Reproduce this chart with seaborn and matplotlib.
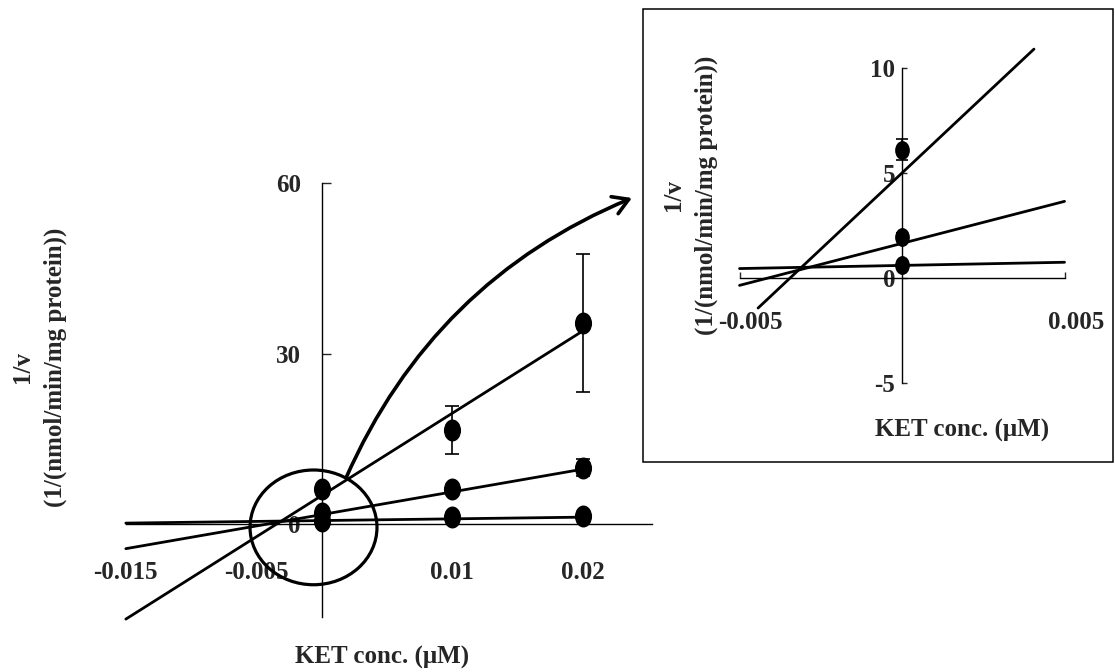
import numpy as np
import pandas as pd
import matplotlib
matplotlib.use("Agg")
import matplotlib.pyplot as plt
import seaborn as sns
from matplotlib.patches import Ellipse, Rectangle
from matplotlib.path import Path
from matplotlib.markers import MarkerStyle
from matplotlib.transforms import Affine2D, ScaledTranslation

sns.set_theme(style="white")
plt.rcParams['font.family'] = ['Liberation Serif', 'DejaVu Serif']
plt.rcParams['font.weight'] = 'bold'
plt.rcParams['axes.unicode_minus'] = False

# 数据
conc = [0.0, 0.01, 0.02]
s1 = [6.1, 16.5, 35.4]      # 最陡的那条
s1_err = [0.5, 4.2, 12.1]
s2 = [1.95, 6.2, 9.9]
s2_err = [0.2, 0.3, 1.5]
s3 = [0.6, 1.2, 1.4]
s3_err = [0.1, 0.1, 0.1]

# 拟合直线的两个端点
fit_x = [-0.015, 0.02]
fit1_y = [-16.75, 34.0]
fit2_y = [-4.35, 9.65]
fit3_y = [0.15, 1.2]

# 放大图里的直线端点
zoom_fit1_x = [-0.00443, 0.00406]
zoom_fit1_y = [-1.43, 10.9]
zoom_fit_x = [-0.005, 0.005]
zoom_fit2_y = [-0.35, 3.65]
zoom_fit3_y = [0.45, 0.75]

main_xticks = [-0.015, -0.005, 0.01, 0.02]
main_xlabels = ['-0.015', '-0.005', '0.01', '0.02']
main_yticks = [0, 30, 60]
zoom_xticks = [-0.005, 0.005]
zoom_xlabels = ['-0.005', '0.005']
zoom_yticks = [-5, 0, 5, 10]

xlabel = 'KET conc. (\u03bcM)'
ylabel = '1/v\n(1/(nmol/min/mg protein))'

points = pd.DataFrame({
    'conc': conc * 3,
    'inv_v': s1 + s2 + s3,
    'err': s1_err + s2_err + s3_err,
})

# 椭圆形的点
ell = Path(Affine2D().scale(0.78, 1.0).transform(Path.unit_circle().vertices),
           Path.unit_circle().codes)
dot = MarkerStyle(ell)

fig = plt.figure(figsize=(11.15, 6.72), dpi=100)
ax = fig.add_axes([0.1070, 0.06815, 0.4861, 0.6762])
axz = fig.add_axes([0.6487, 0.4144, 0.3206, 0.5313])

for a in (ax, axz):
    a.patch.set_visible(False)
    a.spines['top'].set_visible(False)
    a.spines['right'].set_visible(False)
    a.spines['left'].set_position(('data', 0))
    a.spines['bottom'].set_position(('data', 0))
    for sp in ('left', 'bottom'):
        a.spines[sp].set_color('black')
        a.spines[sp].set_linewidth(1.0)
    a.grid(False)

# ---- 主图 ----
ax.set_xlim(-0.0155, 0.026)
ax.set_ylim(-18, 62)
ax.spines['left'].set_bounds(-16.4, 60)
ax.spines['bottom'].set_bounds(-0.015, 0.0253)

for fy in (fit1_y, fit2_y, fit3_y):
    sns.lineplot(x=fit_x, y=fy, ax=ax, color='black', lw=2.0, clip_on=False)
ax.errorbar(points['conc'], points['inv_v'], yerr=points['err'], fmt='none',
            ecolor='black', elinewidth=1.2, capsize=5, capthick=1.2, clip_on=False)
sns.scatterplot(data=points, x='conc', y='inv_v', ax=ax, marker=dot, s=250,
                color='black', edgecolor='black', linewidth=0, zorder=5, clip_on=False)

ax.add_patch(Ellipse((-0.00063, -0.6), 0.00972, 20.2, fill=False,
                     edgecolor='black', lw=2.3, clip_on=False, zorder=6))

ax.set_xticks(main_xticks)
ax.set_xticklabels(main_xlabels)
ax.set_yticks(main_yticks)
ax.tick_params(axis='x', length=0, pad=27, labelsize=18)
ax.tick_params(axis='y', direction='in', length=6.5, width=1.0, pad=15,
               labelsize=18, left=True)
for t in ax.get_xticklabels() + ax.get_yticklabels():
    t.set_fontweight('bold')
ax.set_xlabel('')
ax.set_ylabel('')

# ---- 放大图 ----
axz.set_xlim(-0.0055, 0.0055)
axz.set_ylim(-5.5, 11.5)
axz.spines['left'].set_bounds(-5, 10)
axz.spines['bottom'].set_bounds(-0.005, 0.005)

sns.lineplot(x=zoom_fit1_x, y=zoom_fit1_y, ax=axz, color='black', lw=2.0, clip_on=False)
for fy in (zoom_fit2_y, zoom_fit3_y):
    sns.lineplot(x=zoom_fit_x, y=fy, ax=axz, color='black', lw=2.0, clip_on=False)
zp = points[points['conc'] == 0]
axz.errorbar(zp['conc'], zp['inv_v'], yerr=zp['err'], fmt='none',
             ecolor='black', elinewidth=1.2, capsize=4, capthick=1.2)
sns.scatterplot(data=zp, x='conc', y='inv_v', ax=axz, marker=dot, s=185,
                color='black', edgecolor='black', linewidth=0, zorder=5)

axz.set_xticks(zoom_xticks)
axz.set_xticklabels(zoom_xlabels)
axz.set_yticks(zoom_yticks)
axz.tick_params(axis='x', direction='in', length=4, width=1.0, pad=24,
                labelsize=18, bottom=True)
axz.tick_params(axis='y', direction='in', length=3.6, width=1.0, pad=5,
                labelsize=18, left=True)
shift = ScaledTranslation(8 / 72, 0, fig.dpi_scale_trans)
for t in axz.get_xticklabels():
    t.set_transform(t.get_transform() + shift)
for t in axz.get_xticklabels() + axz.get_yticklabels():
    t.set_fontweight('bold')
axz.set_xlabel('')
axz.set_ylabel('')

# 外框
fig.patches.append(Rectangle((0.5767, 0.3125), 0.4215, 0.6741, transform=fig.transFigure,
                             fill=False, edgecolor='black', lw=1.1))

# 轴标题
fig.text(0.035, 0.454, ylabel, rotation=90, ha='center', va='center',
         multialignment='center', fontsize=18, fontweight='bold', linespacing=1.55)
fig.text(0.343, 0.022, xlabel, ha='center', va='center', fontsize=18, fontweight='bold')
fig.text(0.6188, 0.7098, ylabel, rotation=90, ha='center', va='center',
         multialignment='center', fontsize=18, fontweight='bold', linespacing=1.55)
fig.text(0.8628, 0.3601, xlabel, ha='center', va='center', fontsize=18, fontweight='bold')

# 弯箭头
ax.annotate('', xy=(0.5668, 0.7054), xycoords='figure fraction',
            xytext=(0.3103, 0.2887), textcoords='figure fraction',
            arrowprops=dict(arrowstyle='->,head_length=0.5,head_width=0.3',
                            connectionstyle='arc3,rad=-0.2', color='black',
                            lw=2.6, shrinkA=0, shrinkB=0, mutation_scale=22))

fig.savefig('out.png', dpi=100)
